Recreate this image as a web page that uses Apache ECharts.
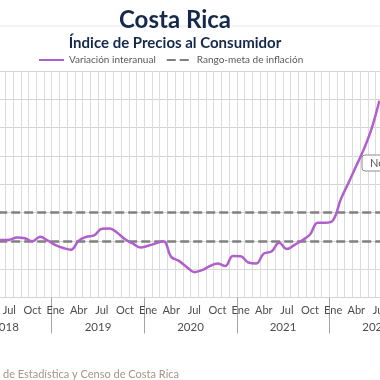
<!DOCTYPE html>
<html><head><meta charset="utf-8">
<script src="https://cdn.jsdelivr.net/npm/echarts@6/dist/echarts.min.js"></script>
<style>
html,body{margin:0;padding:0;width:380px;height:380px;overflow:hidden;background:#fff;}
#chart{position:absolute;left:-100px;top:0;width:550px;height:380px;}
</style></head>
<body><div id="chart"></div>
<script>
const meses = ['Ene','Feb','Mar','Abr','May','Jun','Jul','Ago','Sep','Oct','Nov','Dic'];
const anios = ['2018','2019','2020','2021','2022'];
// Variación interanual del IPC (%), ene-2018 .. dic-2022 (solo la parte visible)
const inflacion = [
  null, null, null, null, 2.10, 2.06, 2.08, 2.24, 2.19, 1.98, 2.29, 2.02,
  1.70, 1.50, 1.38, 2.02, 2.29, 2.38, 2.86, 2.88, 2.57, 2.12, 1.82, 1.53,
  1.65, 1.82, 1.98, 0.87, 0.59, 0.16, -0.21, -0.07, 0.21, 0.40, 0.23, 0.94,
  0.92, 0.47, 0.40, 1.10, 1.25, 1.86, 1.42, 1.72, 2.05, 2.45, 3.28, 3.28,
  3.47, 4.95, 6.10, 7.30, 8.50, 9.95, 11.90, null, null, null, null, null
];
const metaInferior = 2;
const metaSuperior = 4;
const yTicks = { min: -2, max: 14, interval: 2 };

const categorias = [];
anios.forEach(a => meses.forEach(m => categorias.push(m + '-' + a)));

const FONT = 'Lato';
const chart = echarts.init(document.getElementById('chart'), null, {renderer: 'canvas'});
chart.setOption({
  animation: false,
  backgroundColor: '#fff',
  textStyle: { fontFamily: FONT },
  title: [
    { text: 'Costa Rica', left: 'center', top: 3,
      textStyle: { fontFamily: FONT, fontSize: 24, fontWeight: 'bold', color: '#14294b' } },
    { text: 'Índice de Precios al Consumidor', left: 'center', top: 31,
      textStyle: { fontFamily: FONT, fontSize: 15, fontWeight: 'bold', color: '#14294b' } },
    { text: 'Fuente: Instituto Nacional de Estadística y Censo de Costa Rica', right: 266, top: 364,
      textStyle: { fontFamily: FONT, fontSize: 11, fontWeight: 'normal', color: '#a39686' } }
  ],
  graphic: [
    { type: 'line', z: -1, shape: { x1: 0, y1: 26, x2: 550, y2: 26 }, style: { stroke: '#e6e6e6', lineWidth: 1 } },
    { type: 'rect', shape: { x: 462, y: 155, width: 60, height: 16, r: 3 },
      style: { fill: '#fff', stroke: '#8c8c8c', lineWidth: 1 }, z: 50 },
    { type: 'text', x: 470, y: 163, z: 51,
      style: { text: 'Nota', fontFamily: FONT, fontSize: 11, fill: '#595959', verticalAlign: 'middle' } }
  ],
  legend: {
    left: 138, top: 55, padding: 0, itemWidth: 25, itemHeight: 10, itemGap: 10,
    itemStyle: { opacity: 0 },
    textStyle: { fontFamily: FONT, fontSize: 10, color: '#595959' },
    data: ['Variación interanual', 'Rango-meta de inflación']
  },
  grid: { left: 59.2, right: 28.2, top: 71, bottom: 82.5 },
  xAxis: [
    { type: 'category', data: categorias, boundaryGap: true, position: 'bottom',
      axisLine: { show: true, lineStyle: { color: '#d9d9d9' } },
      axisTick: { show: false },
      splitLine: { show: true, interval: 0, lineStyle: { color: '#dcdcdc', width: 1 } },
      axisLabel: { interval: (i) => i % 3 === 0, margin: 7, fontFamily: FONT, fontSize: 11, color: '#4d4d4d',
        formatter: (v) => v.split('-')[0] } },
    { type: 'category', data: categorias, boundaryGap: true, position: 'bottom',
      axisLine: { show: false },
      axisTick: { show: true, interval: (i) => i % 12 === 0, length: 36, alignWithLabel: false,
        lineStyle: { color: '#a6a6a6', width: 1 } },
      axisLabel: { interval: (i) => i % 12 === 6, margin: 24, fontFamily: FONT, fontSize: 11.5, color: '#4d4d4d',
        padding: [0, 7.7, 0, 0], formatter: (v) => v.split('-')[1] } }
  ],
  yAxis: {
    type: 'value', min: yTicks.min, max: yTicks.max, interval: yTicks.interval,
    axisLine: { show: false }, axisTick: { show: false },
    axisLabel: { fontFamily: FONT, fontSize: 11, color: '#4d4d4d' },
    splitLine: { lineStyle: { color: '#d4d4d4', width: 1 } }
  },
  series: [
    { name: 'Variación interanual', type: 'line', data: inflacion, smooth: 0.4,
      symbol: 'none', z: 10, color: '#b05fcb',
      lineStyle: { color: '#b05fcb', width: 2.5 } },
    { name: 'Rango-meta de inflación', type: 'line', data: [], symbol: 'none', color: '#808080',
      lineStyle: { color: '#808080', width: 2.5, type: [9, 4] },
      markLine: { silent: true, symbol: 'none', label: { show: false },
        lineStyle: { color: '#808080', width: 2.5, type: [9, 4] },
        data: [ { yAxis: metaSuperior }, { yAxis: metaInferior } ] } }
  ]
});
</script></body></html>
